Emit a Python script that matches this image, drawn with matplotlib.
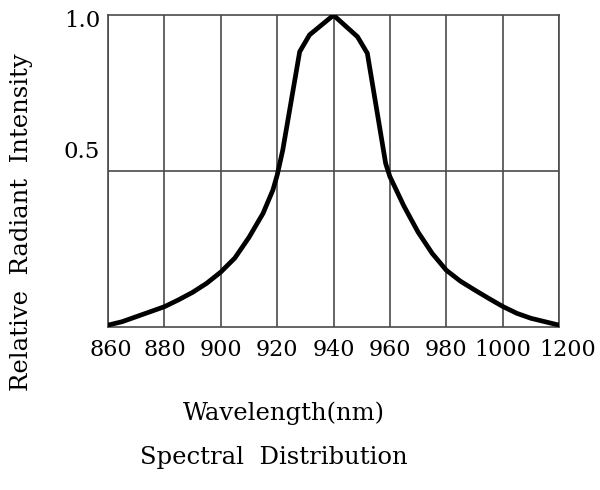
import numpy as np
import matplotlib
matplotlib.use("Agg")
import matplotlib.pyplot as plt
from matplotlib import transforms

# ---------------------------------------------------------------------------
# Data
# ---------------------------------------------------------------------------

# x axis is not linear: ticks are evenly spaced, last step is 1000 -> 1200
tick_nm = [860, 880, 900, 920, 940, 960, 980, 1000, 1200]
tick_labels = ["860", "880", "900", "920", "940", "960", "980", "1000", "1200"]

wavelength_nm = [860, 865, 870, 875, 880, 885, 890, 895, 900, 905, 910, 915,
                 918.5, 920, 922, 928, 931.5, 940, 948.5, 952, 958.5, 960,
                 965, 970, 975, 980, 985, 990, 995, 1000, 1050, 1100, 1150,
                 1200]
intensity = [0.007, 0.018, 0.034, 0.050, 0.066, 0.088, 0.112, 0.141, 0.177,
             0.222, 0.288, 0.365, 0.440, 0.487, 0.568, 0.883, 0.937, 1.000,
             0.931, 0.878, 0.525, 0.483, 0.388, 0.305, 0.237, 0.183, 0.148,
             0.120, 0.093, 0.067, 0.045, 0.029, 0.018, 0.007]

y_ticks = [0.5, 1.0]
y_tick_labels = ["0.5", "1.0"]

# ---------------------------------------------------------------------------
# Plot
# ---------------------------------------------------------------------------

plt.rcParams["font.family"] = "DejaVu Serif"

fig = plt.figure(figsize=(6.0, 4.9), dpi=100)
ax = fig.add_axes([0.18, 0.332, 0.7517, 0.637])

tick_pos = np.arange(len(tick_nm))
x_pos = np.interp(wavelength_nm, tick_nm, tick_pos)

grid_c = "#4a4a4a"
for p in tick_pos:
    ax.axvline(p, color=grid_c, lw=1.2, zorder=1)
ax.axhline(0.5, color=grid_c, lw=1.2, zorder=1)

ax.plot(x_pos, intensity, color="black", lw=3.4, solid_joinstyle="round",
        solid_capstyle="round", zorder=3)

ax.set_xlim(tick_pos[0], tick_pos[-1])
ax.set_ylim(0, 1.0)
for s in ax.spines.values():
    s.set_color(grid_c)
    s.set_linewidth(1.2)
ax.set_xticks([])
ax.set_yticks([])

# tick labels drawn as text: the end labels are nudged outwards like the original
x_shift = {0: 3, len(tick_pos) - 1: 9}
tr_x = transforms.blended_transform_factory(ax.transData, ax.transAxes)
for p, lab in zip(tick_pos, tick_labels):
    tr = tr_x + transforms.ScaledTranslation(x_shift.get(p, 0) / 100, -23 / 100,
                                             fig.dpi_scale_trans)
    ax.text(p, 0, lab, transform=tr, ha="center", va="center", fontsize=16)

# y labels sit a bit off their grid lines in the original
y_shift = {0.5: 19, 1.0: -6}
tr_y = transforms.blended_transform_factory(ax.transAxes, ax.transData)
for v, lab in zip(y_ticks, y_tick_labels):
    tr = tr_y + transforms.ScaledTranslation(-8 / 100, y_shift[v] / 100, fig.dpi_scale_trans)
    ax.text(0, v, lab, transform=tr, ha="right", va="center", fontsize=16.5)

fig.text(22 / 600, 1 - 222 / 490, "Relative  Radiant  Intensity", rotation=90,
         ha="center", va="center", fontsize=17.5)
fig.text(284 / 600, 1 - 413 / 490, "Wavelength(nm)", ha="center", va="center",
         fontsize=17.5)
fig.text(274 / 600, 1 - 457 / 490, "Spectral  Distribution", ha="center",
         va="center", fontsize=17.5)

fig.savefig("out.png", dpi=100)
